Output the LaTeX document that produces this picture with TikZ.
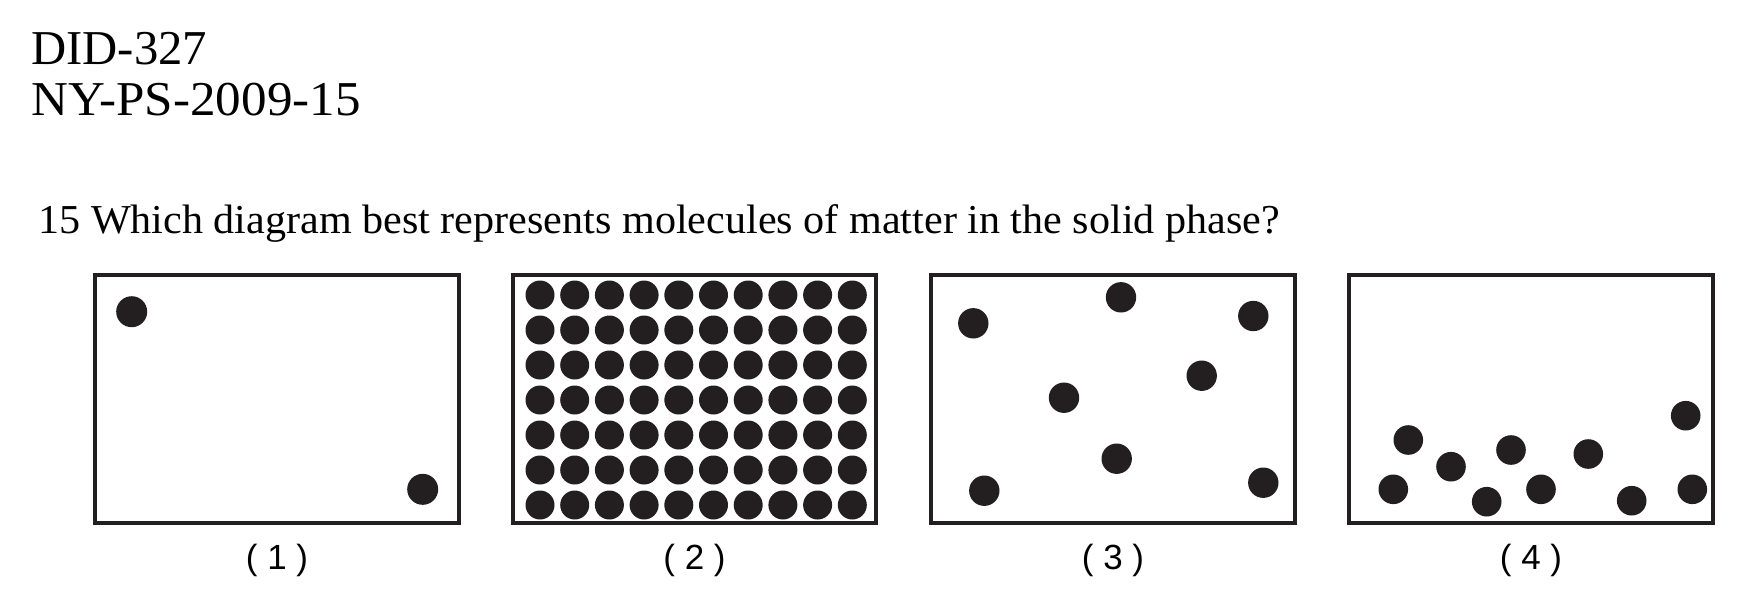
\documentclass[tikz,border=0pt]{standalone}
\usepackage{fontspec}
\setmainfont{Liberation Serif}
\newfontfamily\capfont{Liberation Sans}
\usetikzlibrary{positioning}
\definecolor{inkdark}{RGB}{35,31,32}

\begin{document}
\begin{tikzpicture}[x=0.02cm,y=-0.02cm,
  panel/.style={draw=inkdark,line width=0.08cm,minimum width=7.28cm,minimum height=4.96cm,inner sep=0pt,outer sep=0pt},
  header/.style={anchor=base west,inner sep=0pt,font=\fontsize{27.7}{33}\selectfont},
  caption/.style={anchor=base,inner sep=0pt,font=\capfont\fontsize{19.9}{24}\selectfont},
  molecule/.style={fill=inkdark}]
  \useasboundingbox (0,0) rectangle (1745,610);
  % header lines
  \node[header] (did) at (31,64) {DID-327};
  \node[header] (ny) at (31,115) {\scalebox{1.05}[1]{NY-PS-2009-15}};
  \node[anchor=base west,inner sep=0pt,font=\fontsize{23.4}{28}\selectfont] (question) at (38,233)
    {\scalebox{1.025}[1]{15 Which diagram best represents molecules of matter in the solid phase?}};
  % the four panels
  \node[panel] (p1) at (277,399) {};
  \node[panel] (p2) at (694.5,399) {};
  \node[panel] (p3) at (1113,399) {};
  \node[panel] (p4) at (1531,399) {};
  \node[caption] (c1) at ([yshift=-0.94cm]p1.south) {( 1 )};
  \node[caption] (c2) at ([yshift=-0.94cm]p2.south) {( 2 )};
  \node[caption] (c3) at ([yshift=-0.94cm]p3.south) {( 3 )};
  \node[caption] (c4) at ([yshift=-0.94cm]p4.south) {( 4 )};
  % (1) two molecules
  \fill[molecule] (131.7,311.7) circle (15.5) (422.7,489.3) circle (15.5);
  % (2) packed lattice
  \foreach \i in {0,...,9}{
    \foreach \j in {0,...,6}{
      \fill[molecule] ({540+34.7*\i},{295+35*\j}) circle (14.5);
    }
  }
  % (3) spread out
  \foreach \px/\py in {973.3/323.3,1121/297.3,1253.3/316,1201.7/375.7,1064/397.7,1116.7/458.7,984.3/490.7,1263.3/482.7}{
    \fill[molecule] (\px,\py) circle (15.2);
  }
  % (4) near the bottom
  \foreach \px/\py in {1408.3/440,1393.3/489.3,1451/466.7,1486.7/501.7,1511/450,1541/489.3,1588.3/454,1631.7/500.7,1685.7/415.7,1692.3/489.3}{
    \fill[molecule] (\px,\py) circle (14.8);
  }
\end{tikzpicture}
\end{document}
